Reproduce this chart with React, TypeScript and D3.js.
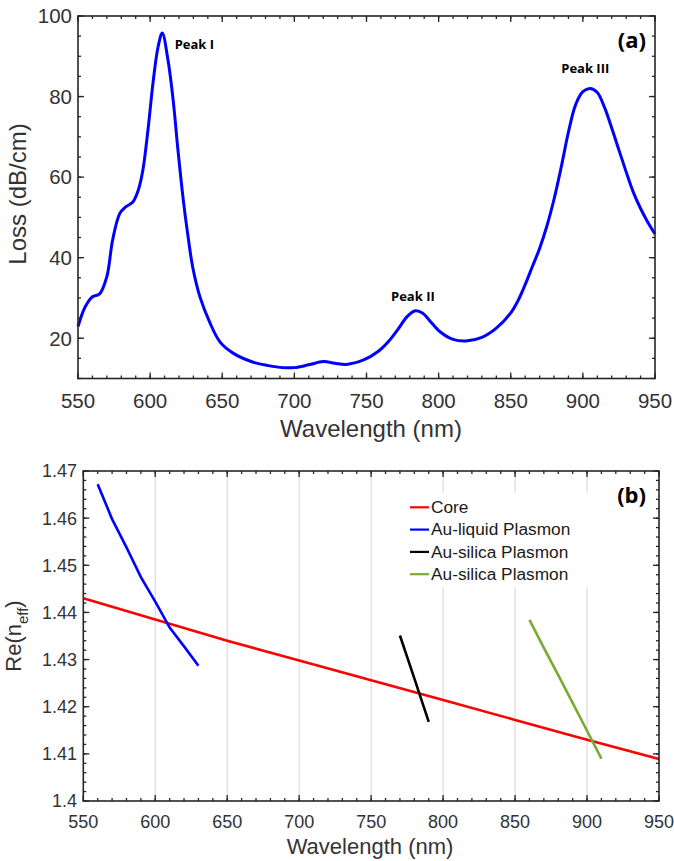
import * as d3 from 'd3'

const W = 674
const H = 861

// panel (a): loss spectrum
const lossWavelength = [
  550, 555, 560, 565, 570, 574, 579, 583, 588, 592, 595, 598.5, 602, 605.5, 608.4,
  612.4, 616, 619.3, 623, 626, 629.5, 634.6, 641.5, 648.4, 657.5, 671, 682, 692, 700,
  710, 720, 728, 736, 748, 758, 766, 772, 778, 784, 789, 794, 801, 810, 819, 830, 840,
  850, 855, 860, 865, 870, 875, 880, 885, 890, 895, 900, 905, 910, 915, 920, 925, 930,
  935, 940, 945, 950,
]
const lossValues = [
  22.9, 27.8, 30.3, 31.0, 35.3, 44.4, 51.0, 52.6, 53.8, 57.0, 61.8, 71.7, 83.4, 92.3, 95.8,
  89.0, 79.0, 66.7, 54.3, 46.0, 37.7, 30.2, 23.8, 19.1, 16.3, 14.1, 13.2, 12.7, 12.7,
  13.4, 14.2, 13.8, 13.5, 14.6, 16.7, 19.5, 22.3, 25.3, 26.8, 26.2, 24.3, 21.6, 19.7, 19.3,
  20.2, 22.5, 26.3, 29.3, 33.3, 37.8, 42.3, 47.8, 54.5, 62.5, 71.2, 78.0, 81.2, 82.0, 81.0,
  77.3, 72.2, 66.7, 61.3, 56.2, 52.2, 48.8, 45.9,
]
const peakLabels = [
  { text: 'Peak I', wl: 617, loss: 91.8 },
  { text: 'Peak II', wl: 767, loss: 29.2 },
  { text: 'Peak III', wl: 885, loss: 85.8 },
]

// panel (b): effective index
const coreWl = [550, 600, 650, 700, 750, 800, 850, 900, 950]
const coreN = [1.443, 1.4385, 1.434, 1.4298, 1.4256, 1.4214, 1.4172, 1.413, 1.4089]
const liquidWl = [560, 570, 580, 590, 600, 610, 620, 630]
const liquidN = [1.4672, 1.4598, 1.4538, 1.4475, 1.4423, 1.4368, 1.4328, 1.4287]
const silicaWl = [770, 780, 790]
const silicaN = [1.4351, 1.426, 1.4168]
const silica2Wl = [860, 870, 880, 890, 900, 910]
const silica2N = [1.4384, 1.4325, 1.4267, 1.4208, 1.4149, 1.409]

const legendItems = [
  { label: 'Core', color: '#ff0000' },
  { label: 'Au-liquid Plasmon', color: '#0000ff' },
  { label: 'Au-silica Plasmon', color: '#000000' },
  { label: 'Au-silica Plasmon', color: '#77ac30' },
]

const wlTicks = [550, 600, 650, 700, 750, 800, 850, 900, 950]
const wlMinor = d3.range(550, 951, 10)
const lossTicks = [20, 40, 60, 80, 100]
const lossMinor = d3.range(10, 101, 5)
const neffTicks = [1.4, 1.41, 1.42, 1.43, 1.44, 1.45, 1.46, 1.47]
const neffMinor = d3.range(0, 36).map((i) => 1.4 + i * 0.002)

const axisColor = '#262626'
const sans = '"Liberation Sans", Arial, sans-serif'
const bold = '"Open Sans", "Liberation Sans", sans-serif'

const xa = d3.scaleLinear().domain([550, 950]).range([78, 655])
const ya = d3.scaleLinear().domain([10, 100]).range([378.5, 16])
const xb = d3.scaleLinear().domain([550, 950]).range([83.3, 659])
const yb = d3.scaleLinear().domain([1.4, 1.47]).range([801, 471])

const Frame = ({ x, y, xMinor, yMinor, xMajor, yMajor }) => {
  const [x0, x1] = x.range()
  const [y0, y1] = y.range() // y0 bottom, y1 top
  const ticks = []
  const add = (list, len, key) =>
    list.forEach((v, i) => {
      const px = x(v)
      ticks.push(<line key={key + 'b' + i} x1={px} x2={px} y1={y0} y2={y0 - len} />)
      ticks.push(<line key={key + 't' + i} x1={px} x2={px} y1={y1} y2={y1 + len} />)
    })
  const addY = (list, len, key) =>
    list.forEach((v, i) => {
      const py = y(v)
      ticks.push(<line key={key + 'l' + i} x1={x0} x2={x0 + len} y1={py} y2={py} />)
      ticks.push(<line key={key + 'r' + i} x1={x1} x2={x1 - len} y1={py} y2={py} />)
    })
  add(xMinor, 3, 'xm')
  add(xMajor, 6, 'xM')
  addY(yMinor, 3, 'ym')
  addY(yMajor, 6, 'yM')
  return (
    <g stroke={axisColor} strokeWidth={1.3} fill="none">
      {ticks}
      <rect x={x0} y={y1} width={x1 - x0} height={y0 - y1} strokeWidth={1.6} />
    </g>
  )
}

export default function App() {
  const lossLine = d3
    .line<number>()
    .x((d) => xa(d))
    .y((_, i) => ya(lossValues[i]))
    .curve(d3.curveCatmullRom.alpha(0.5))

  const nLine = (ys) =>
    d3
      .line<number>()
      .x((d) => xb(d))
      .y((_, i) => yb(ys[i]))

  return (
    <svg
      width={W}
      height={H}
      style={{ position: 'absolute', left: 0, top: 0, background: '#fff' }}
    >
      {/* ---------- panel (a) ---------- */}
      <path d={lossLine(lossWavelength)} fill="none" stroke="#0000ff" strokeWidth={3} />
      <Frame x={xa} y={ya} xMinor={wlMinor} xMajor={wlTicks} yMinor={lossMinor} yMajor={lossTicks} />
      <g fontFamily={sans} fontSize={20.5} fill="#333">
        {wlTicks.map((t) => (
          <text key={t} x={xa(t)} y={408} textAnchor="middle">
            {t}
          </text>
        ))}
        {lossTicks.map((t) => (
          <text key={t} x={72} y={ya(t)} dy="0.36em" textAnchor="end">
            {t}
          </text>
        ))}
      </g>
      <text x={371} y={437} fontFamily={sans} fontSize={24} fill="#333" textAnchor="middle">
        Wavelength (nm)
      </text>
      <text
        transform={`translate(26,194) rotate(-90)`}
        fontFamily={sans}
        fontSize={24}
        fill="#333"
        textAnchor="middle"
      >
        Loss (dB/cm)
      </text>
      <g fontFamily={bold} fontWeight={700} fontSize={13} fill="#000">
        {peakLabels.map((p) => (
          <text key={p.text} x={xa(p.wl)} y={ya(p.loss)}>
            {p.text}
          </text>
        ))}
      </g>
      <text x={646} y={48} fontFamily={bold} fontWeight={700} fontSize={22} textAnchor="end">
        (a)
      </text>

      {/* ---------- panel (b) ---------- */}
      <g stroke="#dedede" strokeWidth={1.3}>
        {wlTicks.slice(1, -1).map((t) => (
          <line key={t} x1={xb(t)} x2={xb(t)} y1={yb(1.47)} y2={yb(1.4)} />
        ))}
      </g>
      <rect x={400} y={493} width={205} height={94} fill="#fff" />
      <path d={nLine(coreN)(coreWl)} fill="none" stroke="#ff0000" strokeWidth={2.6} />
      <path d={nLine(liquidN)(liquidWl)} fill="none" stroke="#0000ff" strokeWidth={2.6} />
      <path d={nLine(silicaN)(silicaWl)} fill="none" stroke="#000000" strokeWidth={2.6} />
      <path d={nLine(silica2N)(silica2Wl)} fill="none" stroke="#77ac30" strokeWidth={2.6} />
      <Frame x={xb} y={yb} xMinor={wlMinor} xMajor={wlTicks} yMinor={neffMinor} yMajor={neffTicks} />
      <g fontFamily={sans} fontSize={18} fill="#333">
        {wlTicks.map((t) => (
          <text key={t} x={xb(t)} y={827.5} textAnchor="middle">
            {t}
          </text>
        ))}
        {neffTicks.map((t) => (
          <text key={t} x={77} y={yb(t)} dy="0.36em" textAnchor="end">
            {String(+t.toFixed(2))}
          </text>
        ))}
      </g>
      <text x={370} y={854} fontFamily={sans} fontSize={22} fill="#333" textAnchor="middle">
        Wavelength (nm)
      </text>
      <text
        transform={`translate(21,636) rotate(-90)`}
        fontFamily={sans}
        fontSize={22}
        fill="#333"
        textAnchor="middle"
      >
        Re(n
        <tspan fontSize={15} dy={7}>
          eff
        </tspan>
        <tspan dy={-7}>)</tspan>
      </text>
      <g fontFamily={sans} fontSize={17.3} fill="#1a1a1a">
        {legendItems.map((d, i) => (
          <g key={i}>
            <line
              x1={410}
              x2={429}
              y1={507.3 + i * 22.3}
              y2={507.3 + i * 22.3}
              stroke={d.color}
              strokeWidth={2.2}
            />
            <text x={431} y={513 + i * 22.3}>
              {d.label}
            </text>
          </g>
        ))}
      </g>
      <text x={646} y={503} fontFamily={bold} fontWeight={700} fontSize={22} textAnchor="end">
        (b)
      </text>
    </svg>
  )
}
